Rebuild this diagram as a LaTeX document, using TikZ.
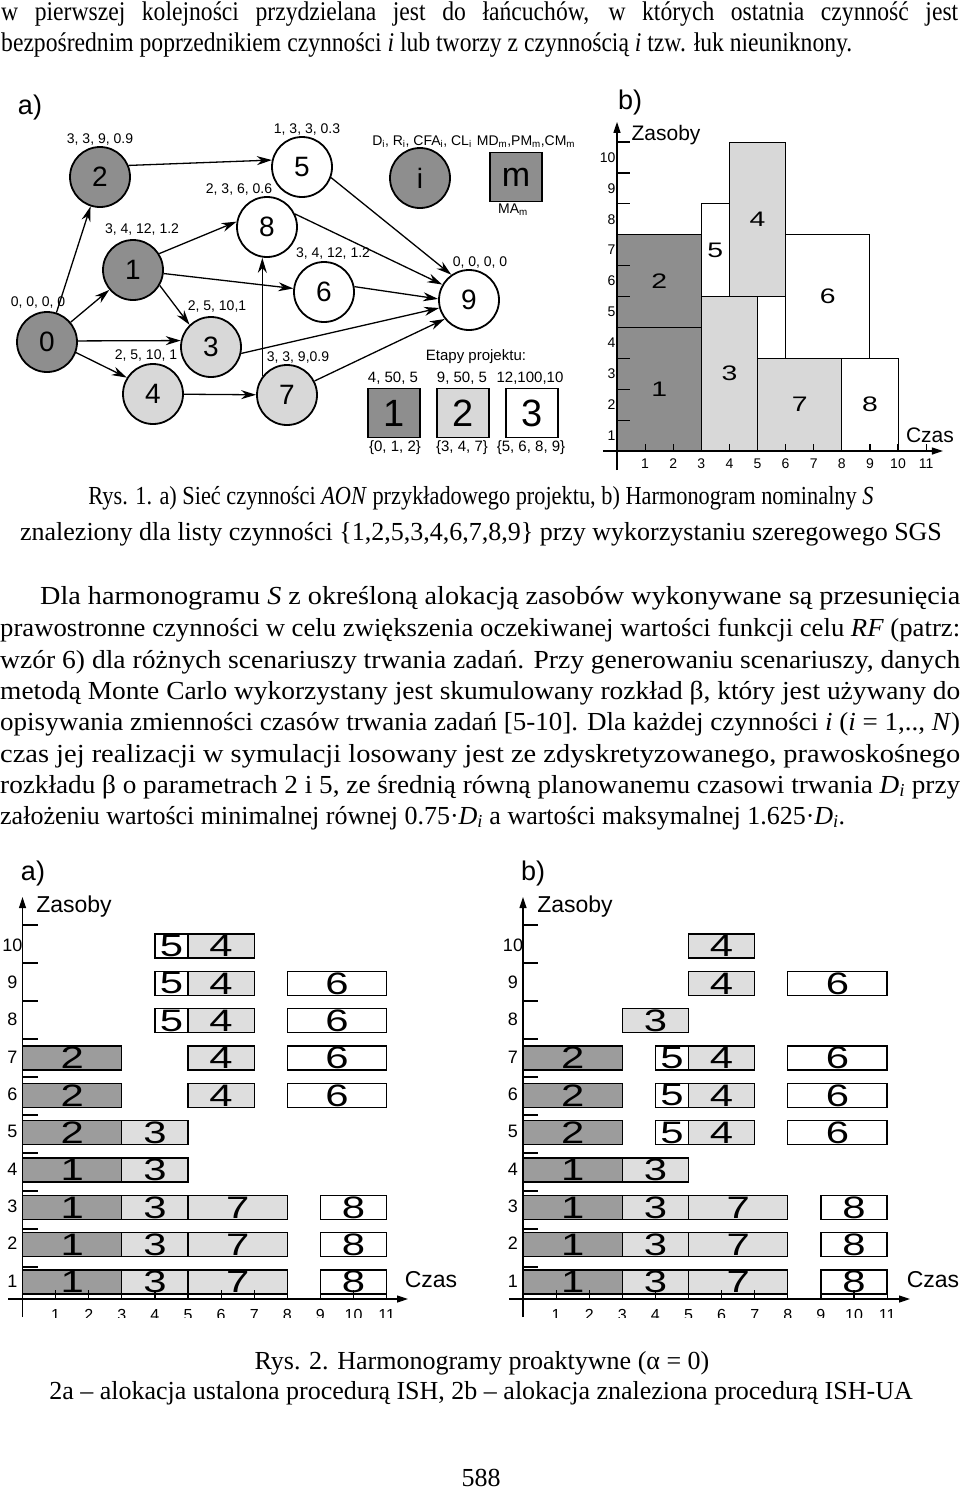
\documentclass[tikz,border=0pt]{standalone}
\usepackage{fontspec}
\setmainfont{Liberation Serif}
\newfontfamily\cond{Liberation Serif}[FakeStretch=0.875]
\newfontfamily\arial{Liberation Sans}
\usepackage{graphicx}
\usetikzlibrary{arrows.meta}
\definecolor{dkn}{HTML}{8E8E8E}
\definecolor{ltn}{HTML}{D8D8D8}
\definecolor{bdk}{HTML}{9C9C9C}
\definecolor{blt}{HTML}{DEDEDE}
\newcommand\fs[1]{\fontsize{#1}{#1}\selectfont}
\newcommand\wdg[1]{\scalebox{1.35}[1]{#1}}
\newcommand\bb[6]{%
  \draw[bbar, fill=#5] ({#1+#3*33.1},{1282-(#2-1)*37.33-12}) rectangle node[blbl]{\wdg{#6}} ({#1+#4*33.1},{1282-(#2-1)*37.33+12});}
\begin{document}
\begin{tikzpicture}[x=1pt,y=-1pt,
  txt/.style={inner sep=0pt, font=\fontsize{26}{31}\selectfont},
  ctxt/.style={inner sep=0pt, font=\cond\fontsize{27}{31}\selectfont},
  nd/.style={circle, draw, line width=1.8pt, minimum size=60pt, inner sep=0pt, font=\arial\fs{28}},
  lb/.style={font=\arial\fs{14}, inner sep=0pt},
  slb/.style={font=\arial\fs{15}, inner sep=0pt},
  sq/.style={draw, line width=1.5pt, minimum width=52pt, minimum height=49pt, inner sep=0pt, font=\arial\fs{38}},
  arr/.style={line width=1.3pt, -{Stealth[length=15pt,width=9pt]}},
  tb/.style={draw, line width=1pt},
  tlbl/.style={font=\arial\fs{21}, inner sep=0pt},
  axis/.style={line width=1.2pt},
  axarr/.style={line width=1.2pt, -{Triangle[length=11pt,width=7pt]}},
  bbar/.style={draw, line width=1.3pt},
  blbl/.style={font=\arial\fs{31}, inner sep=0pt},
  ttick/.style={font=\arial\fs{14}, inner sep=0pt},
  btick/.style={font=\arial\fs{18}, inner sep=0pt},
  ttl/.style={font=\arial\fs{21}, inner sep=0pt},
  bttl/.style={font=\arial\fs{23}, inner sep=0pt},
  ab/.style={font=\arial\fs{27}, inner sep=0pt}]
\useasboundingbox (0,0) rectangle (960,1492);

% ---------- top text ----------
\node[ctxt,anchor=base west] (t1) at (1,20) {\makebox[957pt][s]{w pierwszej kolejności przydzielana jest do łańcuchów, w których ostatnia czynność jest}};
\node[ctxt,anchor=base west] (t2) at (1,51) {bezpośrednim poprzednikiem czynności \textit{i} lub tworzy z czynnością \textit{i} tzw. łuk nieuniknony.};

% ---------- network (a) ----------
\node[ab] (la) at (30,108) {a)};
\node[nd, fill=dkn] (n0) at (47,342) {0};
\node[nd, fill=dkn] (n1) at (133,270) {1};
\node[nd, fill=dkn] (n2) at (100,177) {2};
\node[nd, fill=ltn] (n3) at (211,347) {3};
\node[nd, fill=ltn] (n4) at (153,394) {4};
\node[nd, fill=white] (n5) at (302,167) {5};
\node[nd, fill=white] (n6) at (324,292) {6};
\node[nd, fill=ltn] (n7) at (287,395) {7};
\node[nd, fill=white] (n8) at (267,227) {8};
\node[nd, fill=white] (n9) at (469,300) {9};
\node[nd, fill=dkn] (ni) at (420,178) {i};
\node[draw, line width=1.5pt, fill=dkn, minimum width=52pt, minimum height=49pt, inner sep=0pt, font=\arial\fs{34}] (m) at (516,177) {m};

\node[lb] (l0) at (38,303) {0, 0, 0, 0};
\node[lb] (l1) at (142,230) {3, 4, 12, 1.2};
\node[lb] (l2) at (100,140) {3, 3, 9, 0.9};
\node[lb] (l3) at (217,307) {2, 5, 10,1};
\node[lb] (l4) at (146,356) {2, 5, 10, 1};
\node[lb] (l5) at (307,130) {1, 3, 3, 0.3};
\node[lb] (l6) at (333,254) {3, 4, 12, 1.2};
\node[lb] (l7) at (298,358) {3, 3, 9,0.9};
\node[lb] (l8) at (239,190) {2, 3, 6, 0.6};
\node[lb] (l9) at (480,263) {0, 0, 0, 0};
\node[lb] (li) at (422,142) {D\textsubscript{i}, R\textsubscript{i}, CFA\textsubscript{i}, CL\textsubscript{i}};
\node[lb] (lm) at (526,142) {MD\textsubscript{m},PM\textsubscript{m},CM\textsubscript{m}};
\node[lb] (lma) at (513,210) {MA\textsubscript{m}};

\draw[arr] (n0) -- (n2);
\draw[arr] (n0) -- (n1);
\draw[arr] (n0.2) -- (n3.168);
\draw[arr] (n0.-20) -- (n4.148);
\draw[arr] (n2.22) -- (n5.167);
\draw[arr] (n1.32) -- (n8.170);
\draw[arr] (n1) -- (n6);
\draw[arr] (n1.-30) -- (n3.134);
\draw[arr] (n4) -- (n7);
\draw[arr] (n7.143) -- (n7.143 |- n8.south);
\draw[arr] (n5.-20) -- (n9.125);
\draw[arr] (n8.25) -- (n9.150);
\draw[arr] (n6.10) -- (n9.178);
\draw[arr] (n3.-12) -- (n9.195);
\draw[arr] (n7.27) -- (n9.218);

\node[slb] (et) at (476,357) {Etapy projektu:};
\node[sq, fill=dkn] (s1) at (394,413) {1};
\node[sq, fill=ltn] (s2) at (463,413) {2};
\node[sq, fill=white] (s3) at (532,413) {3};
\node[slb] (s1a) at (393,378) {4, 50, 5};
\node[slb] (s2a) at (462,378) {9, 50, 5};
\node[slb] (s3a) at (530,378) {12,100,10};
\node[slb] (s1b) at (395,448) {\{0, 1, 2\}};
\node[slb] (s2b) at (462,448) {\{3, 4, 7\}};
\node[slb] (s3b) at (531,448) {\{5, 6, 8, 9\}};

% ---------- chart (b) top ----------
\node[ab] (lb) at (630,103) {b)};
\node[ttl] (zt) at (666,135) {Zasoby};
\node[ttl] (ct) at (930,435) {Czas};
\begin{scope}[shift={(617,451)}, x=28.1pt, y=30.9pt]
  \draw[tb, fill=dkn] (0,0) rectangle node[tlbl]{\wdg{1}} (3,4);
  \draw[tb, fill=dkn] (0,4) rectangle node[tlbl]{\wdg{2}} (3,7);
  \draw[tb, fill=ltn] (3,0) rectangle node[tlbl]{\wdg{3}} (5,5);
  \draw[tb, fill=white] (3,5) rectangle node[tlbl]{\wdg{5}} (4,8);
  \draw[tb, fill=ltn] (4,5) rectangle node[tlbl]{\wdg{4}} (6,10);
  \draw[tb, fill=white] (6,3) rectangle node[tlbl]{\wdg{6}} (9,7);
  \draw[tb, fill=ltn] (5,0) rectangle node[tlbl]{\wdg{7}} (8,3);
  \draw[tb, fill=white] (8,0) rectangle node[tlbl]{\wdg{8}} (10,3);
  \draw[axarr] (-0.5,0) -- (11.6,0);
  \draw[axarr] (0,-0.62) -- (0,10.65);
  \foreach \k in {1,...,10} {
    \draw[axis] (0,\k) -- (0.46,\k);
    \node[ttick, anchor=east] at (-0.05,\k-0.5) {\k};
  }
  \foreach \k in {1,...,11} {
    \draw[axis] (\k,0) -- (\k,0.22);
    \node[ttick] at (\k,-0.4) {\k};
  }
\end{scope}

% ---------- caption 1 and paragraph ----------
\node[txt,anchor=base] (c1) at (481,504) {\resizebox{785pt}{\height}{Rys. 1. a) Sieć czynności \textit{AON} przykładowego projektu, b) Harmonogram nominalny \textit{S}}};
\node[txt,anchor=base] (c2) at (481,540) {znaleziony dla listy czynności \{1,2,5,3,4,6,7,8,9\} przy wykorzystaniu szeregowego SGS};

\node[txt,anchor=base west] (p1) at (40,604) {\resizebox{920pt}{\height}{Dla harmonogramu \textit{S} z określoną alokacją zasobów wykonywane są przesunięcia}};
\node[txt,anchor=base west] (p2) at (0,636) {\resizebox{960pt}{\height}{prawostronne czynności w celu zwiększenia oczekiwanej wartości funkcji celu \textit{RF} (patrz:}};
\node[txt,anchor=base west] (p3) at (0,668) {\resizebox{960pt}{\height}{wzór 6) dla różnych scenariuszy trwania zadań. Przy generowaniu scenariuszy, danych}};
\node[txt,anchor=base west] (p4) at (0,699) {\resizebox{960pt}{\height}{metodą Monte Carlo wykorzystany jest skumulowany rozkład β, który jest używany do}};
\node[txt,anchor=base west] (p5) at (0,730) {\resizebox{960pt}{\height}{opisywania zmienności czasów trwania zadań [5-10]. Dla każdej czynności \textit{i} (\textit{i} = 1,.., \textit{N})}};
\node[txt,anchor=base west] (p6) at (0,762) {\resizebox{960pt}{\height}{czas jej realizacji w symulacji losowany jest ze zdyskretyzowanego, prawoskośnego}};
\node[txt,anchor=base west] (p7) at (0,793) {\resizebox{960pt}{\height}{rozkładu β o parametrach 2 i 5, ze średnią równą planowanemu czasowi trwania \textit{D}\textsubscript{\textit{i}} przy}};
\node[txt,anchor=base west] (p8) at (0,824) {założeniu wartości minimalnej równej 0.75·\textit{D}\textsubscript{\textit{i}} a wartości maksymalnej 1.625·\textit{D}\textsubscript{\textit{i}}.};

% ---------- bottom chart a ----------
\node[ab] (ba) at (33,873) {a)};
\node[bttl] (bza) at (74,907) {Zasoby};
\node[bttl] (bca) at (431,1280) {Czas};
\foreach \r in {1,2,3} {\bb{22.5}{\r}{0}{3}{bdk}{1}\bb{22.5}{\r}{3}{5}{blt}{3}\bb{22.5}{\r}{5}{8}{blt}{7}\bb{22.5}{\r}{9}{11}{white}{8}}
\bb{22.5}{4}{0}{3}{bdk}{1}\bb{22.5}{4}{3}{5}{blt}{3}
\bb{22.5}{5}{0}{3}{bdk}{2}\bb{22.5}{5}{3}{5}{blt}{3}
\foreach \r in {6,7} {\bb{22.5}{\r}{0}{3}{bdk}{2}\bb{22.5}{\r}{5}{7}{blt}{4}\bb{22.5}{\r}{8}{11}{white}{6}}
\foreach \r in {8,9} {\bb{22.5}{\r}{4}{5}{white}{5}\bb{22.5}{\r}{5}{7}{blt}{4}\bb{22.5}{\r}{8}{11}{white}{6}}
\bb{22.5}{10}{4}{5}{white}{5}\bb{22.5}{10}{5}{7}{blt}{4}

% ---------- bottom chart b ----------
\node[ab] (bb) at (533,873) {b)};
\node[bttl] (bzb) at (575,907) {Zasoby};
\node[bttl] (bcb) at (933,1280) {Czas};
\foreach \r in {1,2,3} {\bb{523}{\r}{0}{3}{bdk}{1}\bb{523}{\r}{3}{5}{blt}{3}\bb{523}{\r}{5}{8}{blt}{7}\bb{523}{\r}{9}{11}{white}{8}}
\bb{523}{4}{0}{3}{bdk}{1}\bb{523}{4}{3}{5}{blt}{3}
\foreach \r in {5,6,7} {\bb{523}{\r}{0}{3}{bdk}{2}\bb{523}{\r}{4}{5}{white}{5}\bb{523}{\r}{5}{7}{blt}{4}\bb{523}{\r}{8}{11}{white}{6}}
\bb{523}{8}{3}{5}{blt}{3}
\bb{523}{9}{5}{7}{blt}{4}\bb{523}{9}{8}{11}{white}{6}
\bb{523}{10}{5}{7}{blt}{4}

% axes of bottom charts
\foreach \ox/\xs/\xe in {22.5/8/408, 523/509/910} {
  \draw[axarr] (\xs,1299) -- (\xe,1299);
  \draw[axarr] (\ox,1317) -- (\ox,897);
  \foreach \k in {1,...,10} {
    \draw[axis] (\ox,{1267-(\k-1)*38}) -- (\ox+15,{1267-(\k-1)*38});
    \node[btick] at (\ox-10,{1281-(\k-1)*37.33}) {\k};
  }
  \foreach \k in {1,...,11} {
    \draw[axis] ({\ox+\k*33.1},1290) -- ({\ox+\k*33.1},1299);
  }
  \begin{scope}
    \clip (0,1300) rectangle (960,1317);
    \foreach \k in {1,...,11} {
      \node[font=\arial\fs{16}, inner sep=0pt, anchor=north] at ({\ox+\k*33.1},1309) {\k};
    }
  \end{scope}
}

% ---------- caption 2 ----------
\node[txt,anchor=base] (r2) at (482,1369) {Rys. 2. Harmonogramy proaktywne (α = 0)};
\node[txt,anchor=base] (r2b) at (481,1399) {2a – alokacja ustalona procedurą ISH, 2b – alokacja znaleziona procedurą ISH-UA};
\node[txt,anchor=base] (pg) at (481,1486) {588};
\end{tikzpicture}
\end{document}
